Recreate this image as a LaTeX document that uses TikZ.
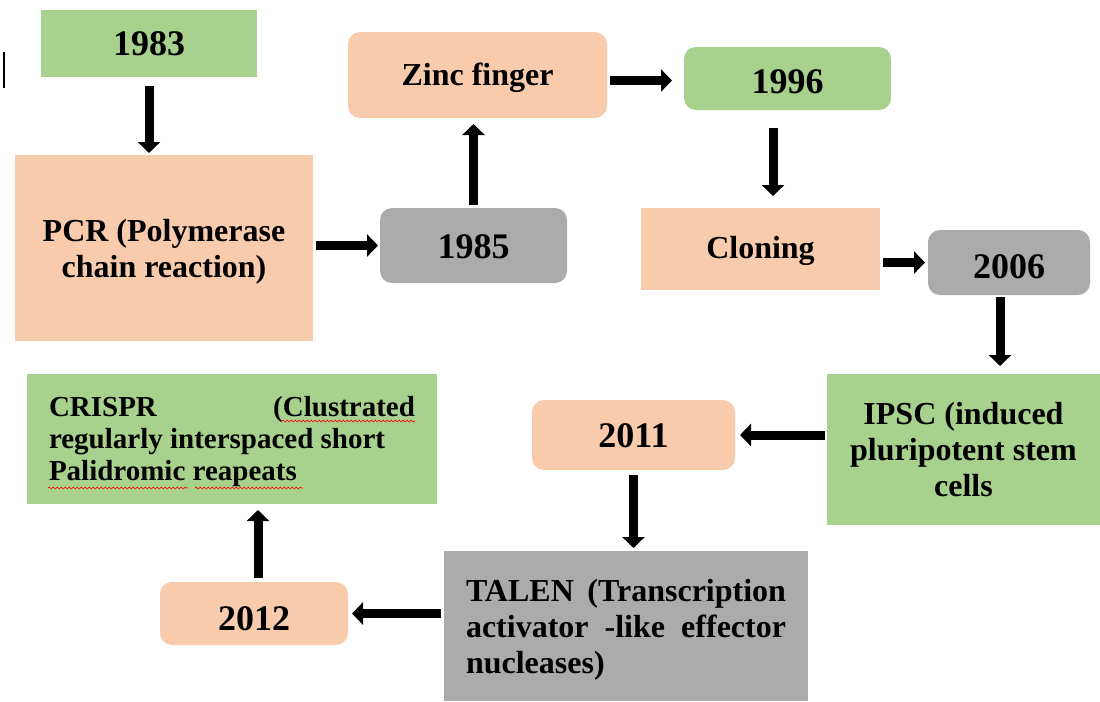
\documentclass[tikz,border=0pt]{standalone}
\usepackage{fontspec}
\setmainfont{Liberation Serif}
\usetikzlibrary{arrows.meta,decorations.pathmorphing}
\definecolor{gfill}{HTML}{A9D18E}
\definecolor{pfill}{HTML}{F8CBAD}
\definecolor{kfill}{HTML}{ABABAB}
\newcommand\lowerby[2]{\raisebox{-#1}[\height][\depth]{#2}}
\begin{document}
\begin{tikzpicture}[x=0.75pt,y=-0.75pt,
  box/.style={inner sep=0pt, outer sep=0pt, align=center,
    font=\bfseries\fontsize{24}{27}\selectfont},
  yr/.style={box, font=\bfseries\fontsize{27}{30}\selectfont},
  gbox/.style={fill=gfill},
  pbox/.style={fill=pfill},
  kbox/.style={fill=kfill},
  rnd/.style={rounded corners=9pt},
  arr/.style={line width=6.75pt, -{Triangle[length=8.25pt,width=16.5pt]}},
  spell/.style={red, line width=0.5pt, decorate,
    decoration={snake, amplitude=0.7pt, segment length=3pt}},
]
\useasboundingbox (0,0) rectangle (1100,701);

% stray cursor mark
\draw[line width=1.1pt] (4,52) -- (4,88);

% boxes
\node[yr, gbox, minimum width=162pt, minimum height=50.25pt] (n1983) at (149,43.5) {1983};
\node[box, pbox, minimum width=223.5pt, minimum height=139.5pt] (pcr) at (164,248)
  {\lowerby{3.5pt}{\begin{tabular}{@{}c@{}}PCR (Polymerase\\chain reaction)\end{tabular}}};
\node[yr, kbox, rnd, minimum width=140.25pt, minimum height=56.25pt] (n1985) at (473.5,245.5) {\lowerby{0.75pt}{1985}};
\node[box, pbox, rnd, minimum width=194.25pt, minimum height=64.5pt] (zinc) at (477.5,75) {\lowerby{2.25pt}{Zinc finger}};
\node[yr, gbox, rnd, minimum width=155.25pt, minimum height=47.25pt] (n1996) at (787.5,78.5) {\lowerby{2.25pt}{1996}};
\node[box, pbox, minimum width=179.25pt, minimum height=61.5pt] (cloning) at (760.5,249) {\lowerby{1.5pt}{Cloning}};
\node[yr, kbox, rnd, minimum width=121.5pt, minimum height=48.75pt] (n2006) at (1009,262.5) {\lowerby{3pt}{2006}};
\node[box, gbox, minimum width=204.75pt, minimum height=113.25pt] (ipsc) at (963.5,449.5) {IPSC (induced\\pluripotent stem\\cells};
\node[yr, pbox, rnd, minimum width=152.25pt, minimum height=52.5pt] (n2011) at (633.5,435) {\lowerby{0.75pt}{2011}};
\node[box, kbox, minimum width=273pt, minimum height=112.5pt] (talen) at (626,626)
  {\lowerby{3pt}{\begin{tabular}{@{}l@{}}\makebox[240pt][s]{TALEN (Transcription}\\\makebox[240pt][s]{activator -like effector}\\nucleases)\end{tabular}}};
\node[yr, pbox, rnd, minimum width=141pt, minimum height=47.25pt] (n2012) at (254,613.5) {\lowerby{3.75pt}{2012}};
\node[box, gbox, font=\bfseries\fontsize{21.75}{24}\selectfont,
  minimum width=307.5pt, minimum height=97.5pt] (crispr) at (232,439)
  {\lowerby{2.25pt}{\begin{tabular}{@{}l@{}}\makebox[274.5pt][s]{CRISPR (Clustrated}\\regularly interspaced short\\Palidromic reapeats\end{tabular}}};

% spell-check underlines
\draw[spell] (282,421) -- (415,421);
\draw[spell] (48,488) -- (188,488);
\draw[spell] (195,488) -- (303,488);

% arrow guide coordinates
\coordinate (c5) at (773,0);
\coordinate (c7) at (1000,0);
\coordinate (c11) at (258,0);

% connectors
\draw[arr, shorten <=6.75pt, shorten >=1.5pt] (n1983.south) -- (n1983.south |- pcr.north);
\draw[arr, shorten <=2.25pt, shorten >=1.5pt] (pcr.east |- n1985) -- (n1985.west);
\draw[arr, shorten <=2.25pt, shorten >=4.5pt] (n1985.north) -- (n1985.north |- zinc.south);
\draw[arr, shorten <=2.25pt, shorten >=9pt] ([yshift=-1.5pt]zinc.east |- n1996) -- ([yshift=-1.5pt]n1996.west);
\draw[arr, shorten <=13.5pt, shorten >=9pt] (c5 |- n1996.south) -- (c5 |- cloning.north);
\draw[arr, shorten <=2.25pt, shorten >=2.25pt] (cloning.east |- n2006) -- (n2006.west);
\draw[arr, shorten <=1.5pt, shorten >=6pt] (c7 |- n2006.south) -- (c7 |- ipsc.north);
\draw[arr, shorten <=1.5pt, shorten >=3.75pt] (ipsc.west |- n2011) -- (n2011.east);
\draw[arr, shorten <=3.75pt, shorten >=2.25pt] (n2011.south) -- (n2011.south |- talen.north);
\draw[arr, shorten <=2.25pt, shorten >=3pt] (talen.west |- n2012) -- (n2012.east);
\draw[arr, shorten <=3pt, shorten >=4.5pt] (c11 |- n2012.north) -- (c11 |- crispr.south);
\end{tikzpicture}
\end{document}
